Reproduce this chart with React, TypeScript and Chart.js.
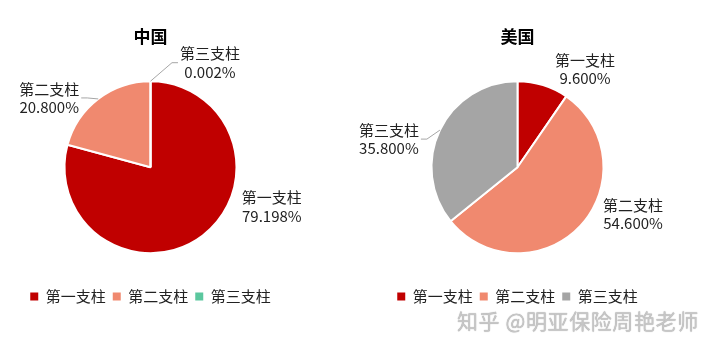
import React, { useEffect, useRef } from "react";
import { Chart, registerables } from "chart.js";

Chart.register(...registerables);

const categories = ["第一支柱", "第二支柱", "第三支柱"];
const chinaValues = [79.198, 20.8, 0.002];
const usaValues = [9.6, 54.6, 35.8];
const chinaTitle = "中国";
const usaTitle = "美国";
const chinaColors = ["#C00000", "#F0896F", "#5BC79E"];
const usaColors = ["#C00000", "#F0896F", "#A5A5A5"];

// label placement (relative to the slice's outer edge at its mid-angle)
const chinaLabelPlacement = [
  { dx: 69, dy: -29, leader: false },
  { dx: -49, dy: -1, leader: true },
  { dx: 59.5, dy: -18.5, leader: true },
];
const usaLabelPlacement = [
  { dx: 42, dy: -16, leader: false },
  { dx: 52.5, dy: -11.5, leader: false },
  { dx: -51, dy: 9, leader: true },
];

const FONT = "'Noto Sans CJK SC', 'Noto Sans', sans-serif";

const pieLabelPlugin = {
  id: "pieLabels",
  afterDatasetsDraw(chart: any, _args: any, opts: any) {
    const ctx = chart.ctx;
    const meta = chart.getDatasetMeta(0);
    const ds = chart.data.datasets[0];
    const placement = opts.placement || [];
    ctx.save();
    ctx.font = `15px ${FONT}`;
    ctx.fillStyle = "#222222";
    ctx.textAlign = "center";
    ctx.textBaseline = "middle";
    meta.data.forEach((arc: any, i: number) => {
      const p = placement[i];
      if (!p) return;
      const { x, y, startAngle, endAngle, outerRadius } = arc.getProps(
        ["x", "y", "startAngle", "endAngle", "outerRadius"],
        true
      );
      const mid = (startAngle + endAngle) / 2;
      const ex = x + Math.cos(mid) * outerRadius;
      const ey = y + Math.sin(mid) * outerRadius;
      const cx = ex + p.dx;
      const cy = ey + p.dy;
      const line1 = chart.data.labels[i];
      const line2 = Number(ds.data[i]).toFixed(3) + "%";
      const w = Math.max(ctx.measureText(line1).width, ctx.measureText(line2).width);
      if (p.leader) {
        const side = p.dx > 0 ? -1 : 1;
        const endX = cx + side * (w / 2 + 2);
        const elbowX = endX + side * 6;
        ctx.strokeStyle = "#A6A6A6";
        ctx.lineWidth = 1;
        ctx.beginPath();
        ctx.moveTo(ex, ey);
        ctx.lineTo(elbowX, cy);
        ctx.lineTo(endX, cy);
        ctx.stroke();
      }
      ctx.fillText(line1, cx, cy - 9);
      ctx.fillText(line2, cx, cy + 9.5);
    });
    ctx.restore();
  },
};

function PieChart(props: {
  title: string;
  values: number[];
  colors: string[];
  placement: any[];
  width: number;
  left: number;
}) {
  const ref = useRef<HTMLCanvasElement>(null);
  useEffect(() => {
    if (!ref.current) return;
    const chart = new Chart(ref.current, {
      type: "pie",
      data: {
        labels: categories,
        datasets: [
          {
            data: props.values,
            backgroundColor: props.colors,
            borderColor: "#FFFFFF",
            borderWidth: 2,
            radius: 86,
          } as any,
        ],
      },
      options: {
        responsive: false,
        maintainAspectRatio: false,
        animation: false,
        layout: { padding: { top: 0, bottom: 40, left: 0, right: 0 } },
        plugins: {
          tooltip: { enabled: false },
          title: {
            display: true,
            text: props.title,
            color: "#000000",
            font: { family: FONT, size: 17, weight: "bold" },
            padding: { top: 26, bottom: 6 },
          },
          legend: {
            display: true,
            position: "bottom",
            labels: {
              boxWidth: 8,
              boxHeight: 8,
              padding: 7,
              color: "#222222",
              font: { family: FONT, size: 15 },
              generateLabels: (c: any) => {
                const base = (Chart as any).overrides.pie.plugins.legend.labels.generateLabels(c);
                return base.map((l: any) => ({ ...l, lineWidth: 0, strokeStyle: "rgba(0,0,0,0)" }));
              },
            },
          },
          pieLabels: { placement: props.placement },
        } as any,
      },
      plugins: [pieLabelPlugin],
    });
    return () => chart.destroy();
  }, []);
  return (
    <canvas
      ref={ref}
      width={props.width}
      height={354}
      style={{ position: "absolute", left: props.left, top: 0, width: props.width, height: 354 }}
    />
  );
}

export default function App() {
  return (
    <div
      style={{
        position: "fixed",
        left: 0,
        top: 0,
        width: 715,
        height: 354,
        background: "#FFFFFF",
        overflow: "hidden",
      }}
    >
      <PieChart title={chinaTitle} values={chinaValues} colors={chinaColors} placement={chinaLabelPlacement} width={301} left={0} />
      <PieChart title={usaTitle} values={usaValues} colors={usaColors} placement={usaLabelPlacement} width={321} left={357} />
      <div
        style={{
          position: "absolute",
          left: 457,
          top: 305,
          fontFamily: FONT,
          fontSize: 21,
          letterSpacing: "0.6px",
          color: "#C6C6C6",
          whiteSpace: "nowrap",
          textShadow: "0 0 1px #9a9a9a",
        }}
      >
        知乎 @明亚保险周艳老师
      </div>
    </div>
  );
}
